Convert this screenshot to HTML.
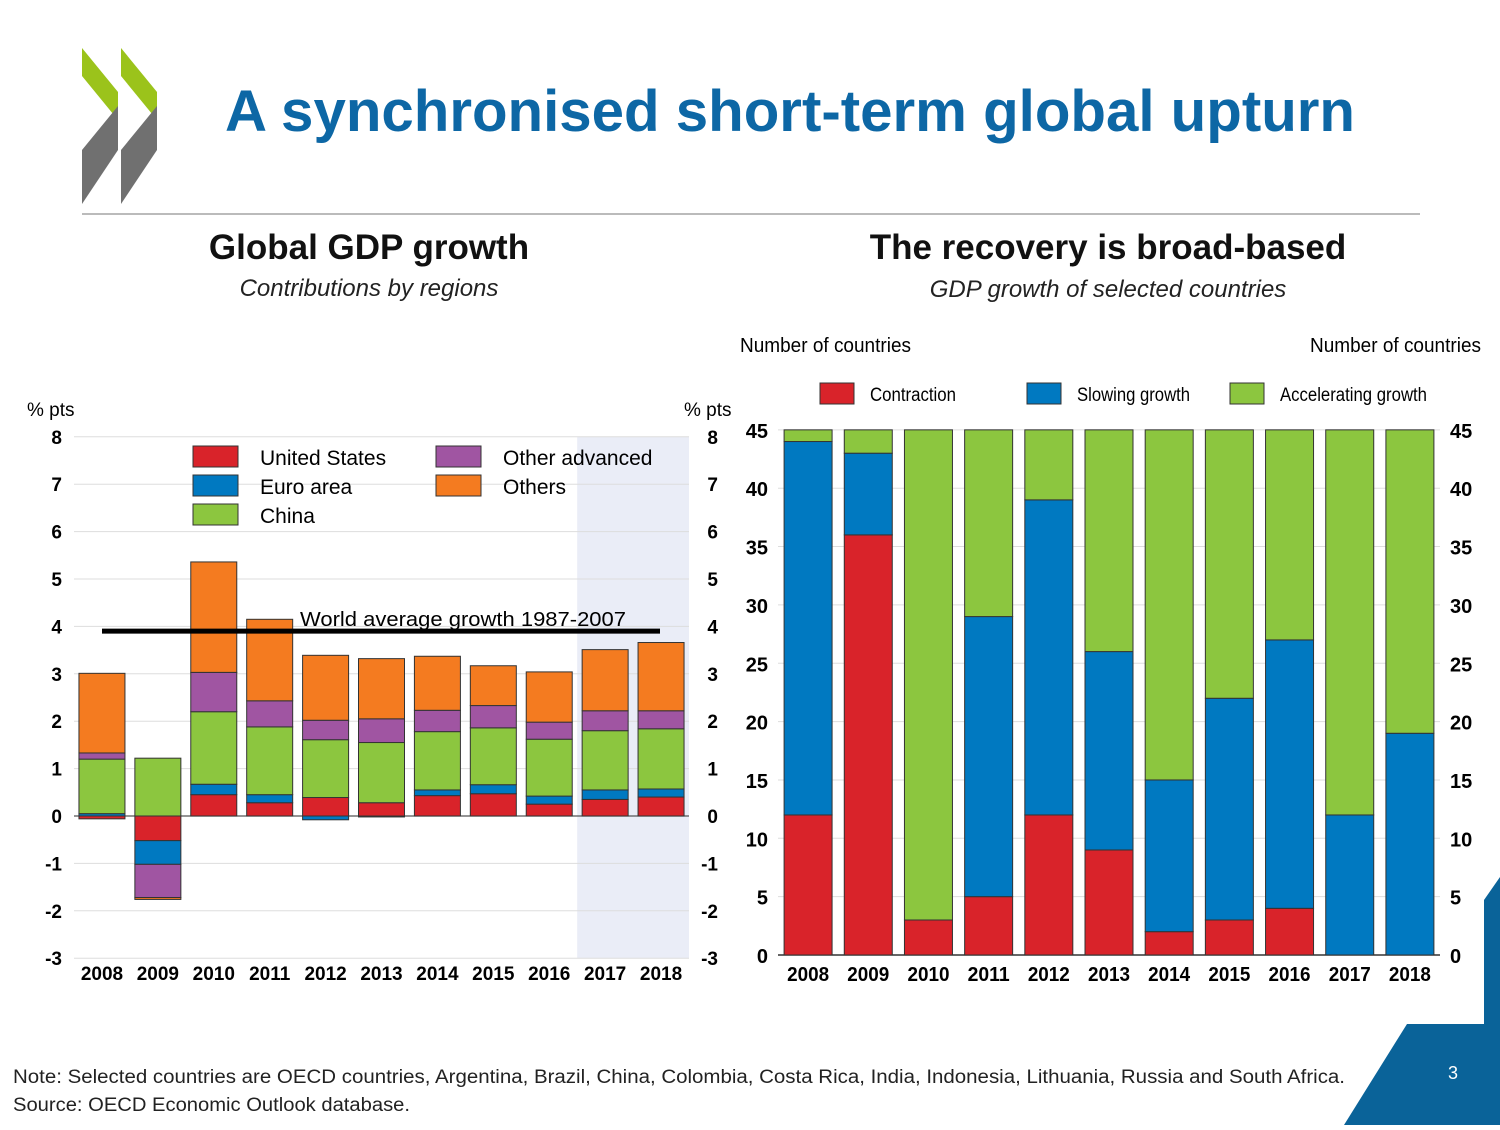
<!DOCTYPE html>
<html><head><meta charset="utf-8"><style>
body{margin:0;background:#fff;}
svg text{font-family:"Liberation Sans",sans-serif;}
</style></head><body>
<svg id="page" width="1500" height="1125" viewBox="0 0 1500 1125" xmlns="http://www.w3.org/2000/svg">
<g>
<polygon points="82,48 118,92 118,120 82,76" fill="#9bc31b"/>
<polygon points="82,150 118,106 118,150 82,204" fill="#707070"/>
<polygon points="121,48 157,92 157,120 121,76" fill="#9bc31b"/>
<polygon points="121,150 157,106 157,150 121,204" fill="#707070"/>
</g>
<text x="225" y="131" font-size="58" font-weight="bold" fill="#0d67a5" textLength="1130" lengthAdjust="spacingAndGlyphs">A synchronised short-term global upturn</text>
<line x1="82" y1="214" x2="1420" y2="214" stroke="#777" stroke-width="1"/>
<text x="369" y="259" text-anchor="middle" font-size="35" font-weight="bold" fill="#111">Global GDP growth</text>
<text x="369" y="296" text-anchor="middle" font-size="24" font-style="italic" fill="#222">Contributions by regions</text>
<text x="1108" y="259" text-anchor="middle" font-size="35" font-weight="bold" fill="#111">The recovery is broad-based</text>
<text x="1108" y="297" text-anchor="middle" font-size="24" font-style="italic" fill="#222">GDP growth of selected countries</text>
<g id="left"></g>
<g id="right"></g>
<text x="13" y="1083" font-size="19" fill="#222" textLength="1332" lengthAdjust="spacingAndGlyphs">Note: Selected countries are OECD countries, Argentina, Brazil, China, Colombia, Costa Rica, India, Indonesia, Lithuania, Russia and South Africa.</text>
<text x="13" y="1111" font-size="19" fill="#222" textLength="397" lengthAdjust="spacingAndGlyphs">Source: OECD Economic Outlook database.</text>
<polygon points="1500,877 1484,900 1484,1024 1407,1024 1344,1125 1500,1125" fill="#0a6399"/>
<text x="1453" y="1079" text-anchor="middle" font-size="18" fill="#fff">3</text>
</svg>
<script>
const years=["2008","2009","2010","2011","2012","2013","2014","2015","2016","2017","2018"];
const usVals=[-0.06,-0.52,0.45,0.28,0.39,0.28,0.43,0.47,0.25,0.35,0.4];
const euroVals=[0.05,-0.5,0.22,0.17,-0.08,-0.02,0.12,0.19,0.17,0.2,0.17];
const chinaVals=[1.15,1.22,1.53,1.43,1.22,1.27,1.23,1.2,1.2,1.25,1.27];
const otherAdvVals=[0.13,-0.7,0.83,0.55,0.41,0.5,0.45,0.47,0.36,0.42,0.38];
const othersVals=[1.68,-0.04,2.33,1.72,1.37,1.27,1.14,0.84,1.06,1.29,1.44];
const worldAvg=3.9;
const leftTicks=[-3,-2,-1,0,1,2,3,4,5,6,7,8];
const contraction=[12,36,3,5,12,9,2,3,4,0,0];
const slowing=[32,7,0,24,27,17,13,19,23,12,19];
const accelerating=[1,2,42,16,6,19,30,23,18,33,26];
const rightTicks=[0,5,10,15,20,25,30,35,40,45];

const NS="http://www.w3.org/2000/svg";
function mk(p,tag,at,txt){const e=document.createElementNS(NS,tag);for(const k in at)e.setAttribute(k,at[k]);if(txt!=null)e.textContent=txt;p.appendChild(e);return e;}
const C={us:"#d9232a",eu:"#0079c1",cn:"#8cc63f",oa:"#a055a2",ot:"#f47b20"};

// LEFT
const L=document.getElementById('left');
const lx0=74,lx1=689,ly=v=>816-v*47.4,step=(lx1-lx0)/years.length,lbx=i=>lx0+step*i+step/2;
const shade=mk(L,'rect',{x:lx0+step*9,y:ly(8),width:lx1-(lx0+step*9),height:ly(-3)-ly(8),fill:"#eaedf7"});

leftTicks.forEach(t=>{
 const g=mk(L,'line',{x1:lx0,x2:lx1,y1:ly(t),y2:ly(t),stroke:t===0?"#555":"#ddd","stroke-width":t===0?1.2:1});
 
 const a=mk(L,'text',{x:62,y:ly(t)+7,"text-anchor":"end","font-size":19,"font-weight":"bold"},t);
 
 const b=mk(L,'text',{x:718,y:ly(t)+7,"text-anchor":"end","font-size":19,"font-weight":"bold"},t);
 
});
let u1=mk(L,'text',{x:27,y:416,"font-size":19},"% pts");
let u2=mk(L,'text',{x:684,y:416,"font-size":19},"% pts");
const series=[[usVals,C.us,"us"],[euroVals,C.eu,"euro"],[chinaVals,C.cn,"china"],[otherAdvVals,C.oa,"other-adv"],[othersVals,C.ot,"others"]];
years.forEach((y,i)=>{
 let pos=0,neg=0;
 series.forEach(([arr,col,n])=>{
  const v=arr[i];let a,b;
  if(v>=0){a=pos;b=pos+v;pos=b;}else{a=neg;b=neg+v;neg=b;}
  const r=mk(L,'rect',{x:lbx(i)-23,width:46,y:ly(Math.max(a,b)),height:Math.abs(ly(a)-ly(b)),fill:col,stroke:"#333","stroke-width":1});
  
 });
 const t=mk(L,'text',{x:lbx(i),y:980,"text-anchor":"middle","font-size":19,"font-weight":"bold"},y);
 
});
const wl=mk(L,'line',{x1:102,x2:660,y1:ly(worldAvg),y2:ly(worldAvg),stroke:"#000","stroke-width":5});

const wt=mk(L,'text',{x:300,y:626,"font-size":20,textLength:326,lengthAdjust:"spacingAndGlyphs"},"World average growth 1987-2007");

[["United States",C.us,193,446],["Euro area",C.eu,193,475],["China",C.cn,193,504],["Other advanced",C.oa,436,446],["Others",C.ot,436,475]].forEach(([n,c,x,y])=>{
 const r=mk(L,'rect',{x:x,y:y,width:45,height:21,fill:c,stroke:"#333"});
 const t=mk(L,'text',{x:x+67,y:y+19,"font-size":21},n);
});

// RIGHT
const R=document.getElementById('right');
const rx0=778,rx1=1440,ry=v=>955-v*11.67,rstep=(rx1-rx0)/years.length,rbx=i=>rx0+rstep*i+rstep/2;
rightTicks.forEach(t=>{
 const g=mk(R,'line',{x1:rx0,x2:rx1,y1:ry(t),y2:ry(t),stroke:t===0?"#333":"#ddd","stroke-width":t===0?1.5:1});
 
 const a=mk(R,'text',{x:768,y:ry(t)+8,"text-anchor":"end","font-size":20,"font-weight":"bold"},t);
 
 const b=mk(R,'text',{x:1450,y:ry(t)+8,"font-size":20,"font-weight":"bold"},t);
 
});
let n1=mk(R,'text',{x:740,y:352,"font-size":20,textLength:171,lengthAdjust:"spacingAndGlyphs"},"Number of countries");
let n2=mk(R,'text',{x:1310,y:352,"font-size":20,textLength:171,lengthAdjust:"spacingAndGlyphs"},"Number of countries");
const rs=[[contraction,C.us,"contraction"],[slowing,C.eu,"slowing"],[accelerating,C.cn,"accelerating"]];
years.forEach((y,i)=>{
 let base=0;
 rs.forEach(([arr,col,n])=>{
  const v=arr[i];
  if(v>0){const r=mk(R,'rect',{x:rbx(i)-24,width:48,y:ry(base+v),height:ry(base)-ry(base+v),fill:col,stroke:"#333","stroke-width":1});
  }
  base+=v;
 });
 const t=mk(R,'text',{x:rbx(i),y:981,"text-anchor":"middle","font-size":20,"font-weight":"bold",textLength:42,lengthAdjust:"spacingAndGlyphs"},y);
 
});
[["Contraction",C.us,820,86],["Slowing growth",C.eu,1027,113],["Accelerating growth",C.cn,1230,147]].forEach(([n,c,x,w])=>{
 const r=mk(R,'rect',{x:x,y:383,width:34,height:21,fill:c,stroke:"#333"});
 const t=mk(R,'text',{x:x+50,y:401,"font-size":19,textLength:w,lengthAdjust:"spacingAndGlyphs"},n);
});
</script>
</body></html>
